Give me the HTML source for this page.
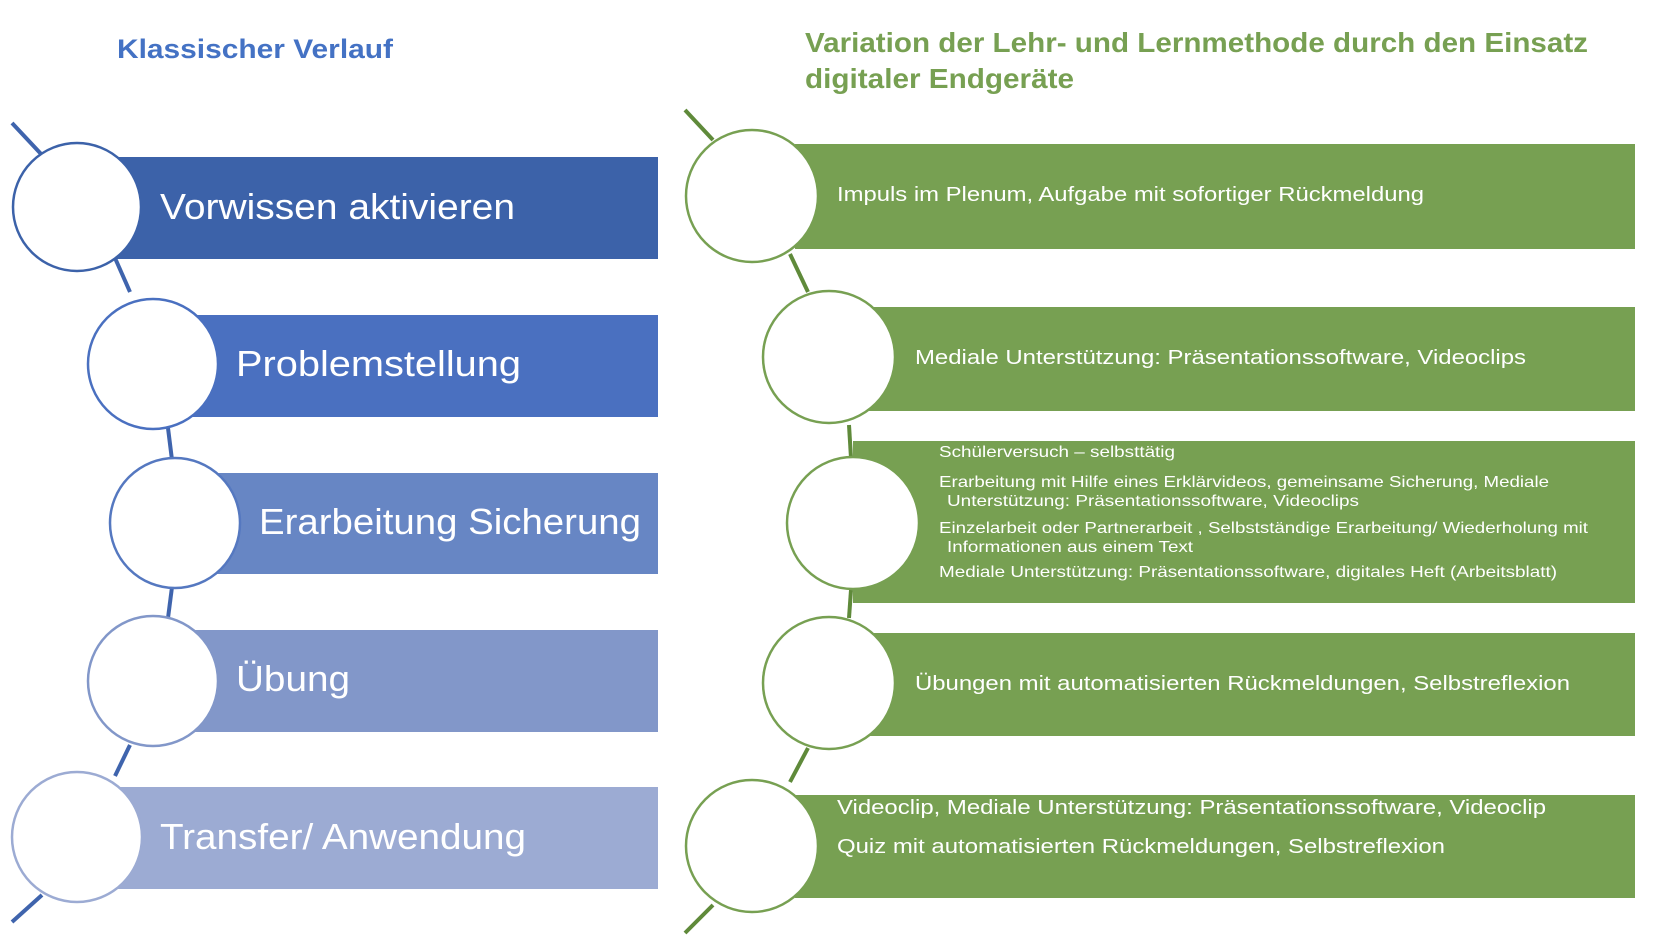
<!DOCTYPE html>
<html><head><meta charset="utf-8"><style>
html,body{margin:0;padding:0;background:#fff;}
svg{display:block;}
text{font-family:"Liberation Sans","DejaVu Sans",sans-serif;}
</style></head><body>
<svg width="1672" height="942" viewBox="0 0 1672 942" xmlns="http://www.w3.org/2000/svg">
<text x="117" y="58" font-size="27" font-weight="bold" fill="#4472c4" textLength="276" lengthAdjust="spacingAndGlyphs">Klassischer Verlauf</text>
<g stroke="#3f64ad" stroke-width="4" fill="none">
<line x1="12" y1="123" x2="42" y2="155"/>
<line x1="115" y1="258" x2="130" y2="292"/>
<line x1="168" y1="428" x2="172" y2="460"/>
<line x1="172" y1="587" x2="168" y2="618"/>
<line x1="130" y1="745" x2="115" y2="776"/>
<line x1="42" y1="895" x2="12" y2="922"/>
</g>
<rect x="117" y="157" width="541" height="102" fill="#3c62a9"/>
<rect x="180" y="315" width="478" height="102" fill="#4a70c0"/>
<rect x="205" y="473" width="453" height="101" fill="#6786c4"/>
<rect x="180" y="630" width="478" height="102" fill="#8297c9"/>
<rect x="117" y="787" width="541" height="102" fill="#9cabd3"/>
<g fill="#fff" stroke-width="2.5">
<circle cx="77" cy="207" r="64" stroke="#3c62a9"/>
<circle cx="153" cy="364" r="65" stroke="#4a70c0"/>
<circle cx="175" cy="523" r="65" stroke="#5578c0"/>
<circle cx="153" cy="681" r="65" stroke="#8297c9"/>
<circle cx="77" cy="837" r="65" stroke="#9cabd3"/>
</g>
<g fill="#fff" font-size="36" lengthAdjust="spacingAndGlyphs">
<text x="160" y="219" textLength="355" lengthAdjust="spacingAndGlyphs">Vorwissen aktivieren</text>
<text x="236" y="376" textLength="285" lengthAdjust="spacingAndGlyphs">Problemstellung</text>
<text x="259" y="534" textLength="382" lengthAdjust="spacingAndGlyphs">Erarbeitung Sicherung</text>
<text x="236" y="691" textLength="114" lengthAdjust="spacingAndGlyphs">Übung</text>
<text x="160" y="849" textLength="366" lengthAdjust="spacingAndGlyphs">Transfer/ Anwendung</text>
</g>
<g fill="#77a052" font-size="28" font-weight="bold">
<text x="805" y="52" textLength="783" lengthAdjust="spacingAndGlyphs">Variation der Lehr- und Lernmethode durch den Einsatz</text>
<text x="805" y="88" textLength="269" lengthAdjust="spacingAndGlyphs">digitaler Endgeräte</text>
</g>
<g stroke="#5f8a3a" stroke-width="4" fill="none">
<line x1="685" y1="110" x2="713" y2="140"/>
<line x1="790" y1="254" x2="808" y2="292"/>
<line x1="849" y1="425" x2="851" y2="458"/>
<line x1="851" y1="590" x2="849" y2="618"/>
<line x1="808" y1="748" x2="790" y2="782"/>
<line x1="713" y1="905" x2="685" y2="933"/>
</g>
<g fill="#77a052">
<rect x="795" y="144" width="840" height="105"/>
<rect x="864" y="307" width="771" height="104"/>
<rect x="853" y="441" width="782" height="162"/>
<rect x="864" y="633" width="771" height="103"/>
<rect x="795" y="795" width="840" height="103"/>
</g>
<g fill="#fff" stroke="#77a052" stroke-width="2.5">
<circle cx="752" cy="196" r="66"/>
<circle cx="829" cy="357" r="66"/>
<circle cx="853" cy="523" r="66"/>
<circle cx="829" cy="683" r="66"/>
<circle cx="752" cy="846" r="66"/>
</g>
<g fill="#fff" font-size="20">
<text x="837" y="201" textLength="587" lengthAdjust="spacingAndGlyphs">Impuls im Plenum, Aufgabe mit sofortiger Rückmeldung</text>
<text x="915" y="364" textLength="611" lengthAdjust="spacingAndGlyphs">Mediale Unterstützung: Präsentationssoftware, Videoclips</text>
<text x="915" y="690" textLength="655" lengthAdjust="spacingAndGlyphs">Übungen mit automatisierten Rückmeldungen, Selbstreflexion</text>
<text x="837" y="814" textLength="709" lengthAdjust="spacingAndGlyphs">Videoclip, Mediale Unterstützung: Präsentationssoftware, Videoclip</text>
<text x="837" y="853" textLength="608" lengthAdjust="spacingAndGlyphs">Quiz mit automatisierten Rückmeldungen, Selbstreflexion</text>
</g>
<g fill="#fff" font-size="16">
<text x="939" y="457" textLength="236" lengthAdjust="spacingAndGlyphs">Schülerversuch – selbsttätig</text>
<text x="939" y="487" textLength="610" lengthAdjust="spacingAndGlyphs">Erarbeitung mit Hilfe eines Erklärvideos, gemeinsame Sicherung,  Mediale</text>
<text x="947" y="506" textLength="412" lengthAdjust="spacingAndGlyphs">Unterstützung: Präsentationssoftware, Videoclips</text>
<text x="939" y="533" textLength="649" lengthAdjust="spacingAndGlyphs">Einzelarbeit oder Partnerarbeit , Selbstständige Erarbeitung/ Wiederholung mit</text>
<text x="947" y="552" textLength="246" lengthAdjust="spacingAndGlyphs">Informationen aus einem Text</text>
<text x="939" y="577" textLength="618" lengthAdjust="spacingAndGlyphs">Mediale Unterstützung: Präsentationssoftware, digitales Heft (Arbeitsblatt)</text>
</g>
</svg>
</body></html>
